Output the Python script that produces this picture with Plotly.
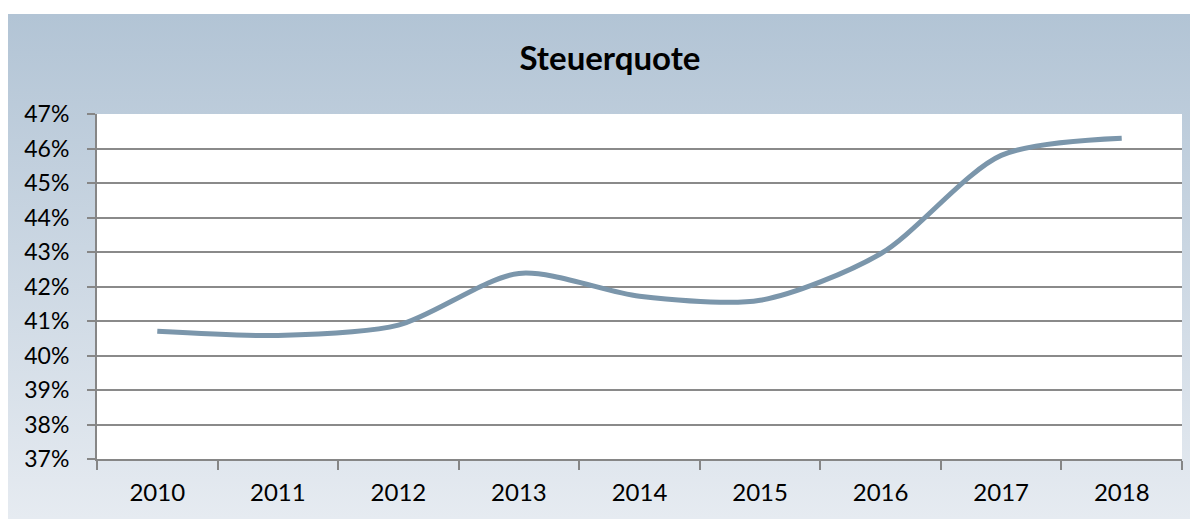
import base64
import plotly.graph_objects as go

# ---- data ----
years = ["2010", "2011", "2012", "2013", "2014", "2015", "2016", "2017", "2018"]
steuerquote = [40.7, 40.58, 40.88, 42.38, 41.72, 41.6, 42.95, 45.8, 46.3]
y_ticks = [37, 38, 39, 40, 41, 42, 43, 44, 45, 46, 47]
y_tick_labels = [f"{v}%" for v in y_ticks]

# figure is placed at page offset (8, 8) by the default body margin
W, H = 1198, 511
L, R, T, B = 89, 24, 106, 60
pw, ph = W - L - R, H - T - B

# gradient background (SVG data URI)
svg = (
    '<svg xmlns="http://www.w3.org/2000/svg" width="100" height="100" preserveAspectRatio="none">'
    '<defs><linearGradient id="g" x1="0" y1="0" x2="0" y2="1">'
    '<stop offset="0" stop-color="#b2c4d5"/><stop offset="1" stop-color="#e6ebf1"/>'
    '</linearGradient></defs><rect width="100" height="100" fill="url(#g)"/></svg>'
)
src = "data:image/svg+xml;base64," + base64.b64encode(svg.encode()).decode()

bg_x0, bg_y0, bg_x1, bg_y1 = 0, 6, W, H
px = lambda x: (x - L) / pw
py = lambda y: (H - B - y) / ph

fig = go.Figure()
fig.add_trace(go.Scatter(
    x=years, y=steuerquote, mode="lines",
    line=dict(color="#7b96ab", width=5, shape="spline", smoothing=0.8),
    hoverinfo="skip", showlegend=False,
))

fig.add_layout_image(dict(
    source=src, xref="paper", yref="paper",
    x=px(bg_x0), y=py(bg_y0), sizex=px(bg_x1) - px(bg_x0), sizey=py(bg_y0) - py(bg_y1),
    xanchor="left", yanchor="top", sizing="stretch", layer="below",
))
fig.add_shape(type="rect", xref="paper", yref="paper", x0=0, x1=1, y0=0, y1=1,
              fillcolor="white", line=dict(width=0), layer="below")

font_family = "Lato, 'Noto Sans', sans-serif"
fig.update_layout(
    width=W, height=H,
    margin=dict(l=L, r=R, t=T, b=B, autoexpand=False),
    paper_bgcolor="white", plot_bgcolor="white",
    title=dict(text="<b>Steuerquote</b>", x=602 / W, xref="container", xanchor="center",
               y=1 - 50 / H, yref="container", yanchor="middle",
               font=dict(family=font_family, size=33, color="black")),
    font=dict(family=font_family, size=24, color="black"),
)
fig.update_xaxes(
    type="category", range=[-0.5, len(years) - 0.5], tickson="boundaries",
    ticks="outside", ticklen=9, tickwidth=2, automargin=False,
    tickcolor="#868686", showline=True, linecolor="#868686", linewidth=2,
    showgrid=False, ticklabelstandoff=11, tickfont=dict(size=24),
)
fig.update_yaxes(
    range=[37, 47], tickmode="array", tickvals=y_ticks, ticktext=y_tick_labels,
    ticks="outside", ticklen=8, automargin=False,
    tickwidth=2, tickcolor="#868686", showline=True, linecolor="#868686", linewidth=2,
    showgrid=True, gridcolor="#8a8a8a", gridwidth=1.5, zeroline=False,
    ticklabelstandoff=13, tickfont=dict(size=23),
)

fig.write_html("out.html")
